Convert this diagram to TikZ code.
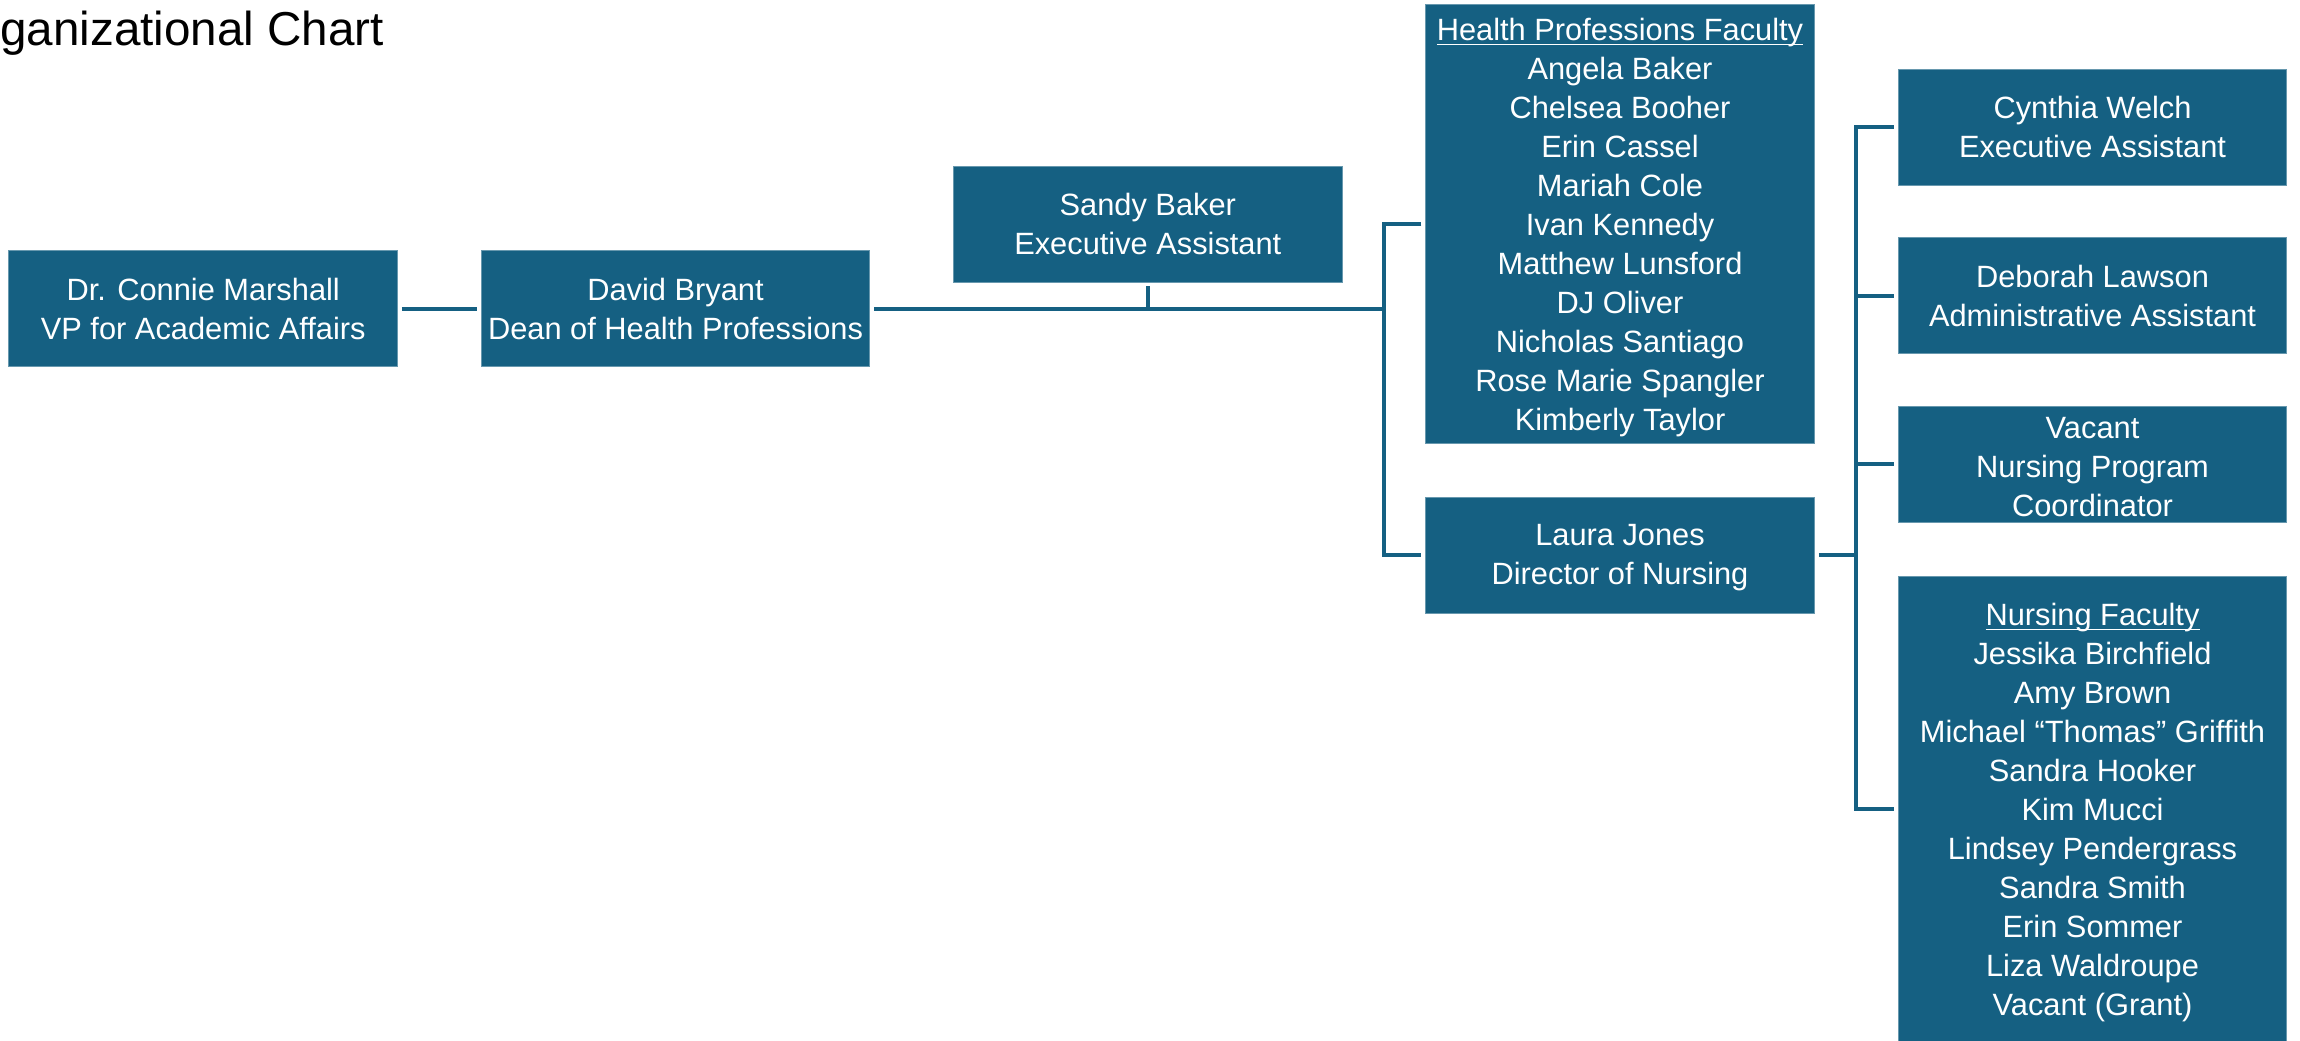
\documentclass[tikz,border=0pt]{standalone}
\usepackage{fontspec}
\setmainfont{Liberation Sans}
\definecolor{boxblue}{HTML}{156082}
\newsavebox\ulbox
\newcommand\ulline[1]{\sbox\ulbox{#1}\rlap{\rule[-2.4pt]{\wd\ulbox}{0.6pt}}\usebox\ulbox}
\newcommand\lowerby[1]{\rule{0pt}{#1}}
\tikzset{
  orgbox/.style={fill=boxblue, draw=boxblue!65!white, line width=0.4pt, text=white,
    align=center, inner sep=0pt, minimum width=194.35pt, minimum height=58pt,
    font=\fontsize{15.4pt}{19.5pt}\selectfont},
  conn/.style={draw=boxblue, line width=2pt, line join=miter},
  gap/.style={shorten <=2pt, shorten >=2pt}
}
\begin{document}
\begin{tikzpicture}[x=0.5pt, y=-0.5pt]
\useasboundingbox (0,0) rectangle (2300,1040);
\node[anchor=base west, inner sep=0pt, font=\fontsize{23.8pt}{28pt}\selectfont] (title) at (0,45) {ganizational Chart};

\node[orgbox] (connie) at (203.2,308.8) {Dr. Connie Marshall\\VP for Academic Affairs};
\node[orgbox] (david) at (675.5,308.8) {David Bryant\\Dean of Health Professions};
\node[orgbox] (sandy) at (1147.8,224) {Sandy Baker\\Executive Assistant};
\node[orgbox, minimum height=219.5pt] (hpf) at (1620,223.7) {\lowerby{14.7pt}\ulline{Health Professions Faculty}\\Angela Baker\\Chelsea Booher\\Erin Cassel\\Mariah Cole\\Ivan Kennedy\\Matthew Lunsford\\DJ Oliver\\Nicholas Santiago\\Rose Marie Spangler\\Kimberly Taylor};
\node[orgbox] (laura) at (1620,555.2) {\lowerby{13pt}Laura Jones\\Director of Nursing};
\node[orgbox] (cynthia) at (2092.5,127) {Cynthia Welch\\Executive Assistant};
\node[orgbox] (deborah) at (2092.5,295.6) {Deborah Lawson\\Administrative Assistant};
\node[orgbox] (vacant) at (2092.5,464.2) {\lowerby{13pt}Vacant\\Nursing Program\\Coordinator};
\node[orgbox, minimum height=233pt] (nf) at (2092.5,809) {\lowerby{14.7pt}\ulline{Nursing Faculty}\\Jessika Birchfield\\Amy Brown\\Michael “Thomas” Griffith\\Sandra Hooker\\Kim Mucci\\Lindsey Pendergrass\\Sandra Smith\\Erin Sommer\\Liza Waldroupe\\Vacant (Grant)};

\coordinate (s1mid) at (1384,308.8);
\coordinate (s1top) at (1384,223.7);
\coordinate (s1bot) at (1384,555.2);
\coordinate (s2mid) at (1855.5,555.2);
\coordinate (s2top) at (1855.5,127);
\coordinate (s2bot) at (1855.5,809);

\draw[conn, gap] (connie.east) -- (david.west);
\draw[conn, shorten <=2pt] (david.east) -- (s1mid);
\draw[conn, shorten <=2pt] (sandy.south) -- (sandy.south |- s1mid);
\draw[conn, gap] (hpf.west) -- (s1top) -- (s1bot) -- (laura.west);
\draw[conn, shorten <=2pt] (laura.east) -- (s2mid);
\draw[conn, gap] (cynthia.west) -- (s2top) -- (s2bot) -- (nf.west);
\draw[conn, shorten >=2pt] (s2top |- deborah) -- (deborah.west);
\draw[conn, shorten >=2pt] (s2top |- vacant) -- (vacant.west);
\end{tikzpicture}
\end{document}
